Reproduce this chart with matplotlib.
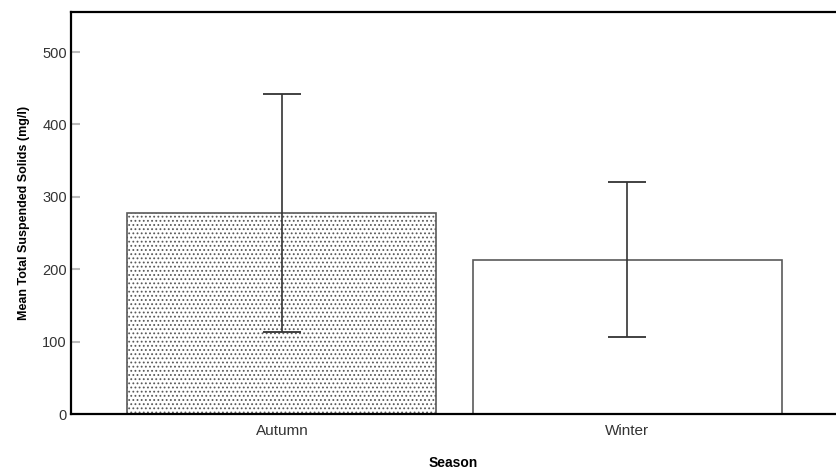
import matplotlib.pyplot as plt
import numpy as np

plt.rcParams['font.family'] = ['Liberation Sans', 'DejaVu Sans']
plt.rcParams['hatch.color'] = '#a8a8a8'
plt.rcParams['hatch.linewidth'] = 0.8

# Data
seasons = ["Autumn", "Winter"]
means = [278, 213]
ci_low = [113, 107]
ci_high = [442, 320]

fig = plt.figure(figsize=(8.36, 4.72), dpi=100)
ax = fig.add_axes([71 / 836, 1 - 414 / 472, 1 - 71 / 836, (414 - 11.5) / 472])

x = np.arange(len(seasons))
bars = ax.bar(x, means, width=0.895, color='white', edgecolor='#5a5a5a', linewidth=1.2, zorder=2)
bars[0].set_hatch('....')

yerr = [np.array(means) - np.array(ci_low), np.array(ci_high) - np.array(means)]
ax.errorbar(x, means, yerr=yerr, fmt='none', ecolor='#333333', elinewidth=1.2,
            capsize=13.7, capthick=1.3, zorder=3)

ax.set_xlim(-0.611, 1.605)
ax.set_ylim(0, 556)
ax.set_yticks([0, 100, 200, 300, 400, 500])
ax.set_xticks(x)
ax.set_xticklabels(seasons)

ax.spines['right'].set_visible(False)
for s in ['left', 'top', 'bottom']:
    ax.spines[s].set_linewidth(1.6)
    ax.spines[s].set_color('black')

ax.tick_params(axis='y', direction='in', length=6.5, width=1.5, color='#bbbbbb',
               labelsize=10.5, labelcolor='#333333', pad=3)
ax.tick_params(axis='x', length=0, labelsize=11, labelcolor='#333333', pad=7)

ax.set_xlabel("Season", fontsize=10, fontweight='bold', labelpad=13)
ax.set_ylabel("Mean Total Suspended Solids (mg/l)", fontsize=9, fontweight='bold', labelpad=9)

fig.savefig("out.png", dpi=100)
